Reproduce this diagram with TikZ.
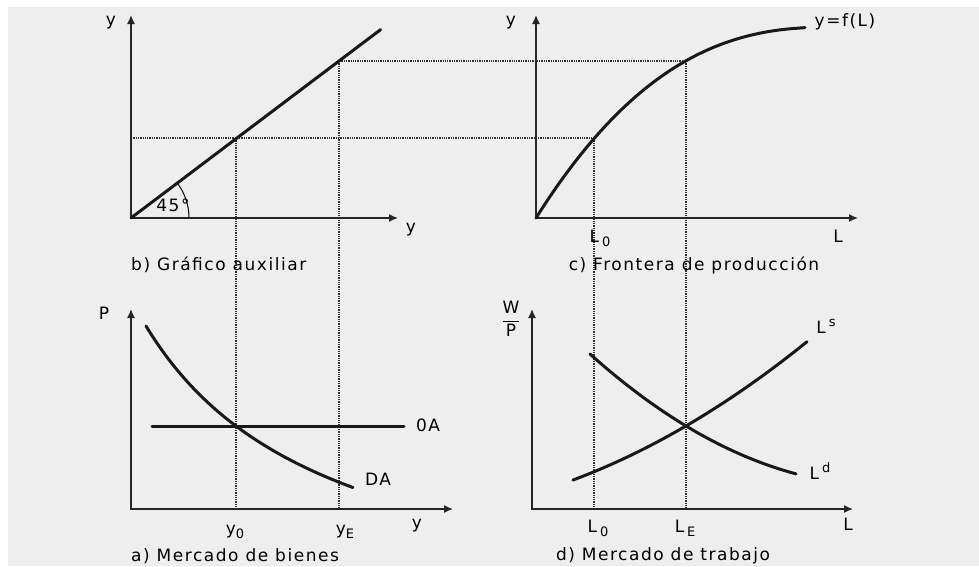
\documentclass[tikz,border=0pt]{standalone}
\usepackage{fontspec}
\setmainfont{DejaVu Sans}[LetterSpace=9]
\usetikzlibrary{arrows.meta, calc}
\definecolor{panelgray}{HTML}{EEEEEE}
\newcommand{\lsub}[1]{\raisebox{-4pt}{\fontsize{13}{13}\selectfont #1}}
\newcommand{\lsup}[1]{\raisebox{7pt}{\fontsize{13}{13}\selectfont #1}}

\begin{document}
\begin{tikzpicture}[
    x=1pt, y=-1pt,
    every node/.style={inner sep=0pt, font=\fontsize{17}{20}\selectfont},
    axis/.style={{Latex[length=9pt,width=8pt]}-{Latex[length=9pt,width=8pt]}, line width=1.4pt, black!85},
    curve/.style={line width=3pt, black!90, line cap=round},
    guide/.style={line width=1.4pt, black!80, dash pattern=on 1.3pt off 1pt}
]
    \useasboundingbox (0,0) rectangle (979,566);
    \fill[panelgray] (8,7) rectangle (979,566);

    % Points
    \coordinate (b0) at (131,218);
    \coordinate (by) at (131,15);
    \coordinate (bx) at (398,218);
    \coordinate (b1) at (236,138);
    \coordinate (b2) at (339,61);
    \coordinate (c0) at (536,218);
    \coordinate (cy) at (536,15);
    \coordinate (cx) at (858,218);
    \coordinate (c1) at (594,138);
    \coordinate (c2) at (686,61);
    \coordinate (a0) at (131,509);
    \coordinate (ay) at (131,309);
    \coordinate (ax) at (453,509);
    \coordinate (a1) at (236,426);
    \coordinate (d0) at (532,509);
    \coordinate (dy) at (532,309);
    \coordinate (dx) at (853,509);
    \coordinate (d1) at (686,426);

    % Guides
    \draw[guide] (b0 |- b1) -- (c1);
    \draw[guide] (b2) -- (c2);
    \draw[guide] (b1) -- (b1 |- a0);
    \draw[guide] (b2) -- (b2 |- a0);
    \draw[guide] (c1) -- (c1 |- d0);
    \draw[guide] (c2) -- (c2 |- d0);

    % Axes
    \draw[axis] (by) -- (b0) -- (bx);
    \draw[axis] (cy) -- (c0) -- (cx);
    \draw[axis] (ay) -- (a0) -- (ax);
    \draw[axis] (dy) -- (d0) -- (dx);

    % Curves
    \draw[curve] (b0) -- ($(b0)!1.2!(b2)$);
    \draw[line width=1pt] ($(b0)+(58,0)$) arc[start angle=0, end angle=-37, radius=58];
    \draw[curve] plot[domain=0:269, samples=80] ({536+\x}, {218-191*(1-(1-\x/300)^2.5)});
    \draw[curve] (152,426) -- (404,426);
    \draw[curve] plot[domain=146:353, samples=80] (\x, {632.7-570.45/((\x+40)/100)});
    \draw[curve] plot[domain=0:234, samples=80] ({573+\x}, {480-0.3734*\x-0.000925*\x*\x});
    \draw[curve] plot[domain=0:206, samples=80] ({590+\x}, {354+0.8961*\x-0.001522*\x*\x});

    % Labels
    \node (lby) at (111,23) {y};
    \node (lbx) at (411,230) {y};
    \node (l45) at (173,205) {45°};
    \node[anchor=west] (capb) at (131,265) {b) Gráfico auxiliar};
    \node (lcy) at (511,23) {y};
    \node (lcf) at (845,22) {y=f(L)};
    \node (lcx) at (838,236) {L};
    \node (lcl0) at (600,238) {L\,\lsub{0}};
    \node (capc) at (694,265) {c) Frontera de producción};
    \node (lap) at (104,313) {P};
    \node (laoa) at (428,425) {0A};
    \node (lada) at (378,479) {DA};
    \node (lay0) at (235,532) {y\lsub{0}};
    \node (laye) at (345,532) {y\lsub{E}};
    \node (lax) at (417,526) {y};
    \node[anchor=west] (capa) at (131,556) {a) Mercado de bienes};
    \node (ldw) at (511,319) {$\displaystyle\frac{\mbox{W}}{\mbox{P}}$};
    \node (ldls) at (826,326) {L\,\lsup{s}};
    \node (ldld) at (820,471) {L\,\lsup{d}};
    \node (ldl0) at (598,528) {L\,\lsub{0}};
    \node (ldle) at (685,528) {L\,\lsub{E}};
    \node (ldx) at (848,524) {L};
    \node (capd) at (663,556) {d) Mercado de trabajo};
\end{tikzpicture}
\end{document}
